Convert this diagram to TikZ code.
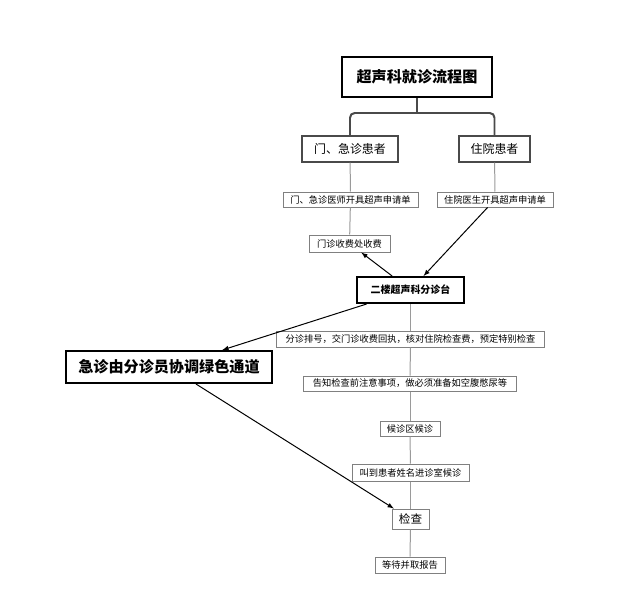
\documentclass[tikz,border=0pt]{standalone}
\usepackage{fontspec}
\setmainfont{Noto Sans CJK SC}
\usepackage{tikz}
\usetikzlibrary{arrows}

\definecolor{linegray}{HTML}{9A9A9A}
\definecolor{boxgray}{HTML}{808080}
\definecolor{branchgray}{HTML}{4A4A4A}

\begin{document}
\begin{tikzpicture}[x=0.03cm,y=-0.03cm,
  smallbox/.style={draw=boxgray,line width=0.85pt,inner sep=0pt,font=\fontsize{7.9}{9}\selectfont},
  midbox/.style={draw=branchgray,line width=1.2pt,inner sep=0pt,font=\fontsize{10.2}{12}\selectfont},
  mainbox/.style={draw=black,line width=1.7pt,inner sep=0pt,font=\bfseries},
  thinline/.style={draw=linegray,line width=0.85pt},
  branchline/.style={draw=branchgray,line width=1.7pt},
  arrowline/.style={draw=black,line width=0.85pt,-latex}]
  \useasboundingbox[fill=white] (0,0) rectangle (634,589);

  \draw (417,77) node[mainbox,minimum width=4.5cm,minimum height=1.2cm,font=\fontsize{12.9}{15}\selectfont\bfseries] (title) {超声科就诊流程图};
  \draw (350,149) node[midbox,minimum width=2.88cm,minimum height=0.78cm] (menji) {门、急诊患者};
  \draw (494.5,149) node[midbox,minimum width=2.13cm,minimum height=0.78cm] (zhuyuan) {住院患者};
    \draw (350.5,199.5) node[smallbox,minimum width=4.05cm,minimum height=0.45cm] (menjisq) {门、急诊医师开具超声申请单};
    \draw (495,199.5) node[smallbox,minimum width=3.48cm,minimum height=0.45cm] (zhuyuansq) {住院医生开具超声申请单};
  \draw (349.5,243.5) node[smallbox,minimum width=2.43cm,minimum height=0.51cm] (shoufei) {门诊收费处收费};
  \draw (410.5,290) node[mainbox,minimum width=3.21cm,minimum height=0.78cm,font=\fontsize{8.5}{10}\selectfont\bfseries] (fenzhentai) {二楼超声科分诊台};
	\draw (169,367) node[mainbox,minimum width=6.18cm,minimum height=0.96cm,font=\fontsize{12.9}{15}\selectfont\bfseries] (jizhen) {急诊由分诊员协调绿色通道};
	\draw (410.5,339) node[smallbox,minimum width=8.01cm,minimum height=0.48cm] (paihao) {分诊排号，交门诊收费回执，核对住院检查费，预定特别检查};
	\draw (410,383.5) node[smallbox,minimum width=6.36cm,minimum height=0.45cm] (gaozhi) {告知检查前注意事项，做必须准备如空腹憋尿等};
	      \draw (410,428.5) node[smallbox,minimum width=1.8cm,minimum height=0.45cm] (houzhen) {候诊区候诊};
	      \draw (410.5,472.5) node[smallbox,minimum width=3.51cm,minimum height=0.51cm] (jiaodao) {叫到患者姓名进诊室候诊};
		  \draw (410.5,519) node[smallbox,minimum width=1.11cm,minimum height=0.6cm,font=\fontsize{9.9}{12}\selectfont] (jiancha) {检查};
		  \draw (410,565) node[smallbox,minimum width=2.1cm,minimum height=0.48cm] (baogao) {等待并取报告};

    % branch from the title
    \coordinate (fork) at (417,113);
    \path[branchline] (title.south) -- (fork);
    \path[branchline,rounded corners=4pt] (menji.north) |- (fork -| zhuyuan.north) -- (zhuyuan.north);

    \path[thinline] (menji) -- (menjisq);
    \path[thinline] (menjisq) -- (shoufei);
    \path[thinline] (zhuyuan) -- (zhuyuansq);
    \path[arrowline] (fenzhentai) -- (shoufei);
    \path[arrowline] (zhuyuansq) -- (fenzhentai);
    \path[arrowline] (fenzhentai) -- (jizhen);
    \path[arrowline] (jizhen) -- (jiancha);

	\path[thinline] (fenzhentai) -- (paihao);
	\path[thinline] (paihao) -- (gaozhi);
	\path[thinline] (gaozhi) -- (houzhen);
	\path[thinline] (houzhen) -- (jiaodao);
	\path[thinline] (jiaodao) -- (jiancha);
	\path[thinline] (jiancha) -- (baogao);

\end{tikzpicture}
\end{document}
